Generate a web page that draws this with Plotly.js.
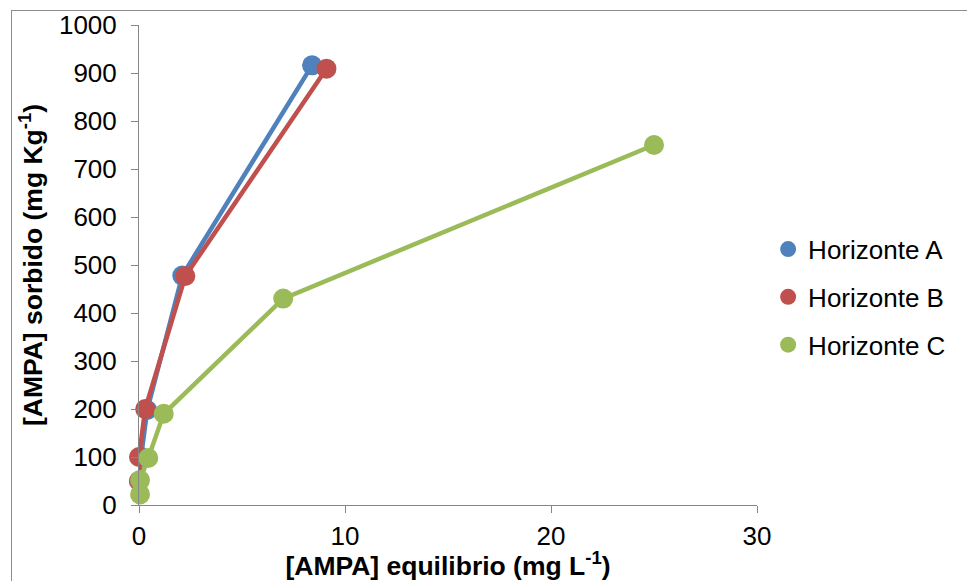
<!DOCTYPE html>
<html>
<head>
<meta charset="utf-8">
<script src="https://cdn.plot.ly/plotly-3.0.1.min.js"></script>
<style>
  html, body { margin: 0; padding: 0; background: #ffffff; }
  #wrap { position: relative; width: 967px; height: 581px; overflow: hidden; }
  #chart { position: absolute; left: 0; top: 0; width: 967px; height: 581px; }
  #frame { position: absolute; left: 11px; top: 10px; width: 1000px; height: 1000px;
           border-left: 1px solid #8c8c8c; border-top: 1px solid #8c8c8c; pointer-events: none; }
</style>
</head>
<body>
<div id="wrap">
  <div id="chart"></div>
  <div id="frame"></div>
</div>
<script>
// Data
const seriesNames = ["Horizonte A", "Horizonte B", "Horizonte C"];
const xA = [0.0, 0.1, 0.4, 2.1, 8.4];
const yA = [50, 100, 198, 478, 916];
const xB = [0.0, 0.0, 0.3, 2.25, 9.1];
const yB = [50, 100, 200, 477, 909];
const xC = [0.05, 0.05, 0.45, 1.2, 7.0, 25.0];
const yC = [22, 52, 98, 190, 430, 750];
const colors = ["#4F81BD", "#C0504D", "#9BBB59"];
const xTicks = [0, 10, 20, 30];
const yTicks = [0, 100, 200, 300, 400, 500, 600, 700, 800, 900, 1000];

const xs = [xA, xB, xC];
const ys = [yA, yB, yC];

const FONT = "Liberation Sans, Arial, sans-serif";

const traces = [];
for (let i = 0; i < 3; i++) {
  traces.push({
    type: "scatter",
    mode: "lines+markers",
    x: xs[i], y: ys[i],
    name: seriesNames[i],
    showlegend: false,
    cliponaxis: false,
    line: { color: colors[i], width: 4.5 },
    marker: { color: colors[i], size: 20 }
  });
}
// legend-only entries (marker only, as in the reference)
for (let i = 0; i < 3; i++) {
  traces.push({
    type: "scatter",
    mode: "markers",
    x: [null], y: [null],
    name: seriesNames[i],
    legendgroup: "g" + i,
    showlegend: true,
    marker: { color: colors[i], size: 20 }
  });
}

const axisCommon = {
  showgrid: false,
  zeroline: false,
  showline: true,
  linecolor: "#868686",
  linewidth: 1,
  ticks: "outside",
  ticklen: 7,
  tickwidth: 1,
  tickcolor: "#868686",
  tickfont: { family: FONT, size: 26, color: "#000000" },
  fixedrange: true
};

const layout = {
  width: 967,
  height: 581,
  paper_bgcolor: "#ffffff",
  plot_bgcolor: "#ffffff",
  margin: { l: 139, r: 210, t: 25, b: 76, pad: 0 },
  font: { family: FONT, color: "#000000" },
  xaxis: Object.assign({}, axisCommon, {
    range: [0, 30],
    tickvals: xTicks,
    ticktext: xTicks.map(String),
    ticklabelstandoff: 1,
    automargin: false,
    title: { text: "<b>[AMPA] equilibrio (mg L<sup>-1</sup>)</b>", font: { family: FONT, size: 26.5, color: "#000" }, standoff: 2 }
  }),
  yaxis: Object.assign({}, axisCommon, {
    range: [0, 1000],
    tickvals: yTicks,
    ticktext: yTicks.map(String),
    ticklabelstandoff: 9,
    automargin: false,
    title: { text: "<b>[AMPA] sorbido (mg Kg<sup>-1</sup>)</b>", font: { family: FONT, size: 26.5, color: "#000" }, standoff: 8 }
  }),
  legend: {
    x: 1.018, xanchor: "left",
    y: 0.433, yanchor: "middle",
    font: { family: FONT, size: 26, color: "#000" },
    bgcolor: "rgba(0,0,0,0)",
    borderwidth: 0,
    tracegroupgap: 11,
    traceorder: "grouped"
  },
  showlegend: true
};

Plotly.newPlot("chart", traces, layout, { staticPlot: true, displayModeBar: false });
</script>
</body>
</html>
